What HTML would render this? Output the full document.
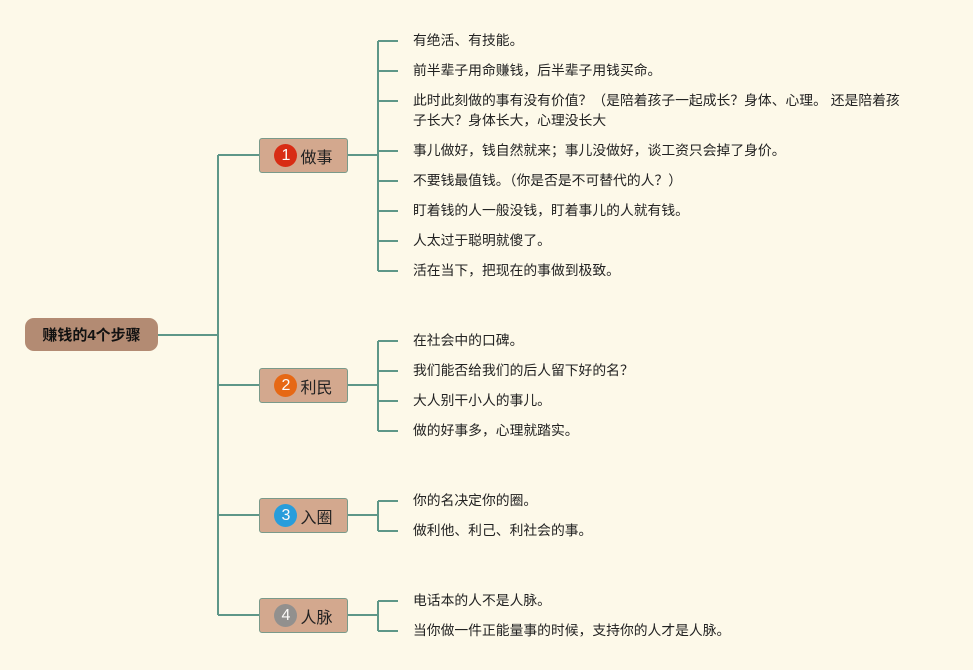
<!DOCTYPE html><html><head><meta charset="utf-8"><style>
body{margin:0;width:973px;height:670px;background:#fdf9e9;position:relative;overflow:hidden;font-family:"Liberation Sans","Noto Sans CJK SC",sans-serif}
.t{position:absolute;left:413px;font-size:13.8px;color:#222;line-height:20px;white-space:nowrap}
.n{position:absolute;left:259px;width:87px;height:33px;background:#d3a88e;border:1px solid #7a9a8a;border-radius:3px;font-size:16px;color:#222;display:flex;align-items:center;justify-content:center;gap:3px}
.c{width:23px;height:23px;border-radius:50%;color:#fff;font-size:16px;display:flex;align-items:center;justify-content:center;opacity:.95}
</style></head><body>
<svg width="973" height="670" style="position:absolute;left:0;top:0" fill="none" stroke="#5e9788" stroke-width="2">
<path d="M158 335H218M218 155V615M218 155H259M218 385H259M218 515H259M218 615H259"/>
<path d="M348 155H378M378 41V271M378 41H398M378 71H398M378 101H398M378 151H398M378 181H398M378 211H398M378 241H398M378 271H398"/>
<path d="M348 385H378M378 341V431M378 341H398M378 371H398M378 401H398M378 431H398"/>
<path d="M348 515H378M378 501V531M378 501H398M378 531H398"/>
<path d="M348 615H378M378 601V631M378 601H398M378 631H398"/>
</svg>
<div style="position:absolute;left:25px;top:318px;width:133px;height:33px;background:#b38b73;border-radius:9px;font-size:15px;font-weight:bold;color:#111;display:flex;align-items:center;justify-content:center">赚钱的4个步骤</div>
<div class="n" style="top:138px"><span class="c" style="background:#d9260e">1</span>做事</div>
<div class="n" style="top:368px"><span class="c" style="background:#e8650f">2</span>利民</div>
<div class="n" style="top:498px"><span class="c" style="background:#1f9de0">3</span>入圈</div>
<div class="n" style="top:598px"><span class="c" style="background:#8f8f8f">4</span>人脉</div>
<div class="t" style="top:31px">有绝活、有技能。</div>
<div class="t" style="top:61px">前半辈子用命赚钱，后半辈子用钱买命。</div>
<div class="t" style="top:91px">此时此刻做的事有没有价值？（是陪着孩子一起成长？身体、心理。 还是陪着孩<br>子长大？身体长大，心理没长大</div>
<div class="t" style="top:141px">事儿做好，钱自然就来；事儿没做好，谈工资只会掉了身价。</div>
<div class="t" style="top:171px">不要钱最值钱。（你是否是不可替代的人？）</div>
<div class="t" style="top:201px">盯着钱的人一般没钱，盯着事儿的人就有钱。</div>
<div class="t" style="top:231px">人太过于聪明就傻了。</div>
<div class="t" style="top:261px">活在当下，把现在的事做到极致。</div>
<div class="t" style="top:331px">在社会中的口碑。</div>
<div class="t" style="top:361px">我们能否给我们的后人留下好的名？</div>
<div class="t" style="top:391px">大人别干小人的事儿。</div>
<div class="t" style="top:421px">做的好事多，心理就踏实。</div>
<div class="t" style="top:491px">你的名决定你的圈。</div>
<div class="t" style="top:521px">做利他、利己、利社会的事。</div>
<div class="t" style="top:591px">电话本的人不是人脉。</div>
<div class="t" style="top:621px">当你做一件正能量事的时候，支持你的人才是人脉。</div>
</body></html>
